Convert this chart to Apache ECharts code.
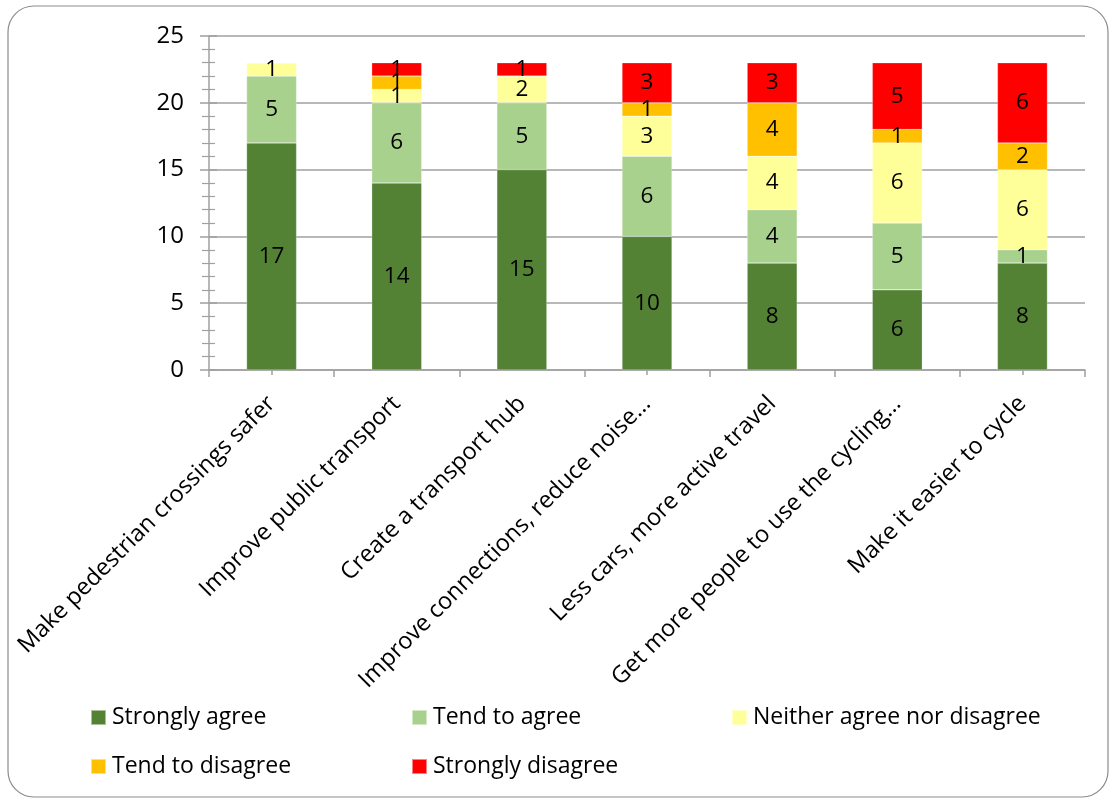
<!DOCTYPE html>
<html>
<head>
<meta charset="utf-8">
<script src="https://cdn.jsdelivr.net/npm/echarts@6/dist/echarts.min.js"></script>
<style>
  html, body { margin: 0; padding: 0; background: #fff; }
  #chart { width: 1114px; height: 801px; }
</style>
</head>
<body>
<div id="chart"></div>
<script>
// Survey responses per proposal (number of respondents)
const categories = [
  'Make pedestrian crossings safer',
  'Improve public transport',
  'Create a transport hub',
  'Improve connections, reduce noise…',
  'Less cars, more active travel',
  'Get more people to use the cycling…',
  'Make it easier to cycle'
];
const seriesNames = ['Strongly agree', 'Tend to agree', 'Neither agree nor disagree', 'Tend to disagree', 'Strongly disagree'];
const stronglyAgree   = [17, 14, 15, 10, 8, 6, 8];
const tendToAgree     = [5, 6, 5, 6, 4, 5, 1];
const neither         = [1, 1, 2, 3, 4, 6, 6];
const tendToDisagree  = [0, 1, 0, 1, 4, 1, 2];
const stronglyDisagree= [0, 1, 1, 3, 3, 5, 6];
const yTicks = [0, 5, 10, 15, 20, 25];

const seriesValues = [stronglyAgree, tendToAgree, neither, tendToDisagree, stronglyDisagree];
const colors = ['#548235', '#A9D18E', '#FFFF99', '#FFC000', '#FF0000'];

const legendFont = '"Liberation Sans Narrow", "Open Sans", sans-serif';
const axisFont = '"Open Sans", "Noto Sans", sans-serif';
const axisGray = '#a0a0a0';

const chart = echarts.init(document.getElementById('chart'), null, { renderer: 'canvas' });

const series = seriesNames.map((name, i) => ({
  name,
  type: 'bar',
  stack: 'total',
  xAxisIndex: 0,
  yAxisIndex: 0,
  barWidth: 50,
  data: seriesValues[i],
  itemStyle: { color: colors[i], borderColor: 'rgba(255,255,255,0.5)', borderWidth: 0.5 },
  label: {
    show: true,
    position: 'inside',
    color: '#000',
    fontFamily: axisFont,
    fontSize: 22.5,
    formatter: p => (p.value ? String(p.value) : '')
  },
  emphasis: { disabled: true }
}));

// One legend component per entry so the entries sit on a fixed 3-column grid
const legendSlots = [
  { left: 90, top: 706 }, { left: 411, top: 706 }, { left: 731, top: 706 },
  { left: 90, top: 755 }, { left: 411, top: 755 }
];
const legends = seriesNames.map((name, i) => ({
  data: [name],
  left: legendSlots[i].left,
  top: legendSlots[i].top,
  icon: 'rect',
  itemWidth: 15,
  itemHeight: 15,
  itemGap: 0,
  padding: 0,
  selectedMode: false,
  textStyle: { fontFamily: legendFont, fontSize: 23, color: '#000', padding: [0, 0, 0, 1] }
}));

const yMax = yTicks[yTicks.length - 1];

chart.setOption({
  animation: false,
  backgroundColor: '#fff',
  color: colors,
  grid: { left: 209, right: 29, top: 36, bottom: 431, containLabel: false },
  legend: legends,
  xAxis: [
    {
      type: 'category',
      data: categories,
      axisLine: { show: true, lineStyle: { color: axisGray, width: 1.5 } },
      axisTick: { show: true, alignWithLabel: false, length: 7, lineStyle: { color: axisGray, width: 1.5 } },
      axisLabel: {
        interval: 0,
        rotate: 45,
        margin: 30,
        color: '#000',
        fontFamily: axisFont,
        fontSize: 23.5
      },
      splitLine: { show: false }
    },
    {
      type: 'category',
      data: categories,
      position: 'bottom',
      axisLine: { show: false },
      axisTick: { show: true, alignWithLabel: true, length: 5, lineStyle: { color: axisGray, width: 1.5 } },
      axisLabel: { show: false },
      splitLine: { show: false }
    }
  ],
  yAxis: [
    {
      type: 'value',
      min: 0,
      max: yMax,
      interval: 5,
      axisLine: { show: true, lineStyle: { color: axisGray, width: 1.5 } },
      axisTick: { show: true, length: 9, lineStyle: { color: axisGray, width: 1.5 } },
      minorTick: { show: true, splitNumber: 5, length: 7, lineStyle: { color: axisGray, width: 1.2 } },
      axisLabel: {
        color: '#000',
        fontFamily: axisFont,
        fontSize: 24,
        margin: 25,
        formatter: v => (yTicks.includes(v) ? String(v) : '')
      },
      splitLine: { show: true, lineStyle: { color: axisGray, width: 1.5 } }
    },
    {
      type: 'value',
      min: 0,
      max: yMax,
      interval: 5,
      position: 'left',
      axisLine: { show: false },
      axisTick: { show: true, inside: true, length: 8, lineStyle: { color: axisGray, width: 1.5 } },
      minorTick: { show: true, splitNumber: 5, length: 6, lineStyle: { color: axisGray, width: 1.2 } },
      axisLabel: { show: false },
      splitLine: { show: false }
    }
  ],
  series,
  graphic: [
    {
      type: 'rect',
      silent: true,
      z: -1,
      shape: { x: 8, y: 6, width: 1100, height: 791, r: 26 },
      style: { fill: 'none', stroke: '#8c8c8c', lineWidth: 1.2 }
    }
  ]
});
</script>
</body>
</html>
